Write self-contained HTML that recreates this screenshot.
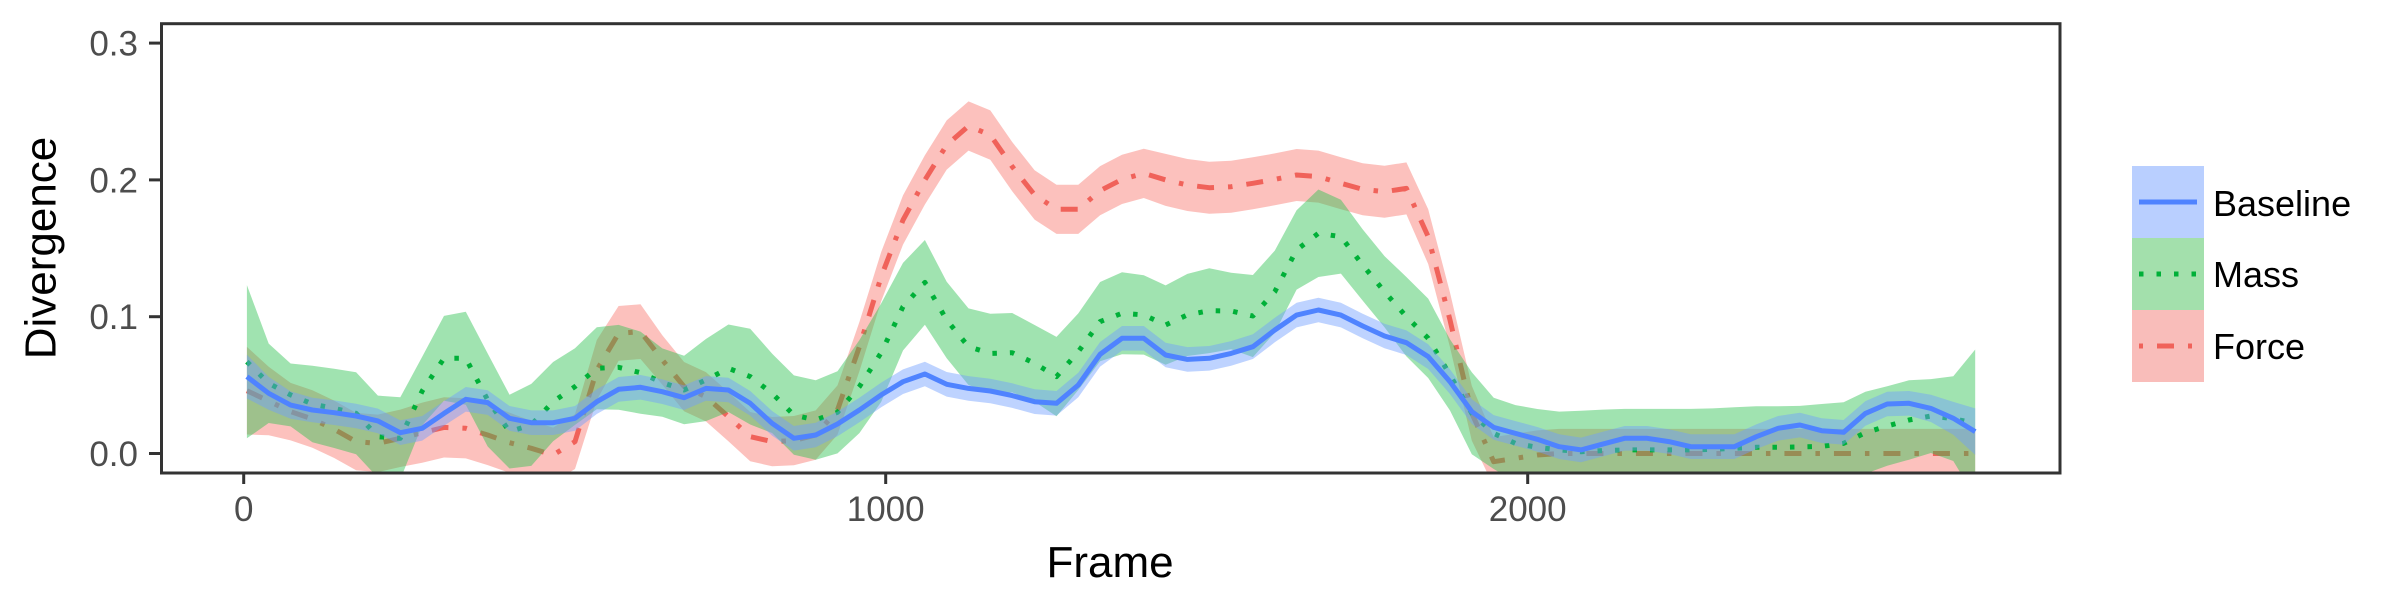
<!DOCTYPE html>
<html><head><meta charset="utf-8">
<style>
html,body{margin:0;padding:0;background:#fff;}
svg{display:block;font-family:"Liberation Sans",Arial,sans-serif;}
</style></head>
<body>
<svg id="chart" width="2400" height="600" viewBox="0 0 2400 600" xmlns="http://www.w3.org/2000/svg">
  <defs><clipPath id="plotclip"><rect x="161.5" y="23.7" width="1898.5" height="449.3"/></clipPath></defs>
  <rect x="0" y="0" width="2400" height="600" fill="#fff"/>
  <g id="marks" clip-path="url(#plotclip)"></g>
  <rect x="161.5" y="23.7" width="1898.5" height="449.3" fill="none" stroke="#333" stroke-width="3"/>
  <g id="axes"></g>
  <text x="1110" y="577" font-size="44" text-anchor="middle" fill="#000">Frame</text>
  <text transform="translate(55.5,248) rotate(-90)" font-size="44" text-anchor="middle" fill="#000">Divergence</text>
  <g>
    <g>
      <rect x="2132" y="166" width="72" height="72" fill="#b9cfff"/>
      <line x1="2139" y1="202" x2="2197" y2="202" stroke="#4f83ff" stroke-width="5"/>
      <text x="2213" y="216" font-size="36" fill="#000">Baseline</text>
    </g>
    <g>
      <rect x="2132" y="238" width="72" height="72" fill="#a3e0ac"/>
      <line x1="2139" y1="274" x2="2199" y2="274" stroke="#00B038" stroke-width="5" stroke-dasharray="4.5 13"/>
      <text x="2213" y="287" font-size="36" fill="#000">Mass</text>
    </g>
    <g>
      <rect x="2132" y="310" width="72" height="72" fill="#f9bdba"/>
      <line x1="2139" y1="346" x2="2199" y2="346" stroke="#F0625A" stroke-width="5" stroke-dasharray="4 14 17 14"/>
      <text x="2213" y="359" font-size="36" fill="#000">Force</text>
    </g>
  </g>
</svg>
<script>
const frames = [5,39,73,107,141,175,209,244,278,312,346,380,414,448,482,516,550,584,618,652,686,720,755,789,823,857,891,925,959,993,1027,1061,1095,1129,1163,1197,1232,1266,1300,1334,1368,1402,1436,1470,1504,1538,1572,1606,1640,1674,1709,1743,1777,1811,1845,1879,1913,1947,1981,2015,2049,2083,2117,2151,2186,2220,2254,2288,2322,2356,2390,2424,2458,2492,2526,2560,2594,2628,2663,2697];
const baselineMean = [.0562,.0440,.0354,.0318,.0298,.0274,.0238,.0152,.0184,.0293,.0396,.0372,.0257,.0225,.0225,.0257,.0379,.0469,.0484,.0452,.0408,
 .0476,.0464,.0367,.0221,.0111,.0135,.0216,.0318,.0428,.0525,.0581,.0506,.0476,.0457,.0423,.0379,.0367,.0501,.0725,.0842,.0842,
 .0720,.0688,.0696,.0732,.0781,.0903,.1012,.1049,.1012,.0932,.0859,.0810,.0708,.0525,.0306,.0191,.0147,.0104,.0050,.0026,
 .0069,.0111,.0111,.0087,.0050,.0050,.0050,.0123,.0184,.0208,.0167,.0155,.0293,.0362,.0367,.0330,.0257,.0160];
const baselineErr = [.016,.012,.010,.009,.009,.009,.009,.009,.009,.009,.009,.009,.009,.009,.009,.009,.009,.009,.009,.009,.009,
 .009,.009,.009,.009,.009,.009,.009,.009,.009,.009,.009,.009,.009,.009,.009,.009,.009,.009,.009,.009,.009,
 .009,.009,.009,.009,.009,.009,.009,.009,.009,.009,.009,.009,.009,.009,.009,.009,.009,.009,.009,.009,
 .009,.009,.009,.009,.009,.009,.009,.009,.009,.009,.009,.009,.009,.009,.009,.010,.012,.017];
const massMean = [.0671,.0513,.0428,.0362,.0330,.0294,.0123,.0111,.0457,.0696,.0696,.0391,.0160,.0209,.0379,.0489,.0623,.0630,.0591,.0518,.0464,
 .0537,.0623,.0562,.0440,.0281,.0245,.0301,.0489,.0737,.1073,.1251,.0976,.0781,.0732,.0737,.0659,.0562,.0744,.0964,.1025,.1013,
 .0939,.1013,.1044,.1042,.1005,.1183,.1488,.1610,.1585,.1378,.1183,.1000,.0842,.0574,.0294,.0147,.0074,.0045,.0026,.0013,
 .0021,.0026,.0026,.0026,.0026,.0030,.0038,.0045,.0045,.0048,.0052,.0074,.0152,.0201,.0245,.0274,.0255,.0220];
const massErr = [.056,.029,.023,.028,.029,.030,.030,.030,.025,.031,.034,.034,.027,.030,.029,.028,.030,.031,.030,.025,.025,
 .030,.032,.035,.029,.029,.029,.030,.034,.036,.032,.031,.028,.028,.029,.029,.028,.029,.028,.029,.030,.029,
 .029,.030,.031,.028,.030,.030,.029,.032,.027,.026,.026,.029,.029,.026,.030,.026,.028,.028,.028,.030,
 .030,.030,.030,.030,.030,.030,.030,.030,.030,.030,.031,.030,.030,.029,.029,.027,.031,.054];
const forceMean = [.0459,.0384,.0306,.0252,.0177,.0087,.0074,.0111,.0152,.0191,.0184,.0135,.0079,.0038,-.0011,.0087,.0610,.0878,.0891,.0684,.0489,
 .0415,.0269,.0123,.0087,.0094,.0135,.0318,.0781,.1293,.1707,.2000,.2255,.2394,.2328,.2097,.1890,.1785,.1785,.1921,.2004,.2048,
 .2000,.1963,.1943,.1950,.1975,.2004,.2036,.2024,.1975,.1931,.1914,.1938,.1585,.0976,.0294,-.0060,-.0035,-.0011,0,0,
 0,0,0,0,0,0,0,0,0,0,0,0,0,0,0,0,0,0];
const forceErr = [.032,.025,.021,.021,.021,.021,.021,.021,.022,.022,.022,.022,.022,.020,.020,.020,.022,.020,.020,.018,.018,
 .018,.018,.018,.018,.018,.018,.018,.018,.018,.018,.018,.018,.018,.018,.018,.018,.018,.018,.018,.018,.018,
 .019,.019,.019,.019,.019,.019,.019,.019,.019,.019,.019,.019,.020,.020,.020,.018,.018,.018,.018,.018,
 .018,.018,.018,.018,.018,.018,.018,.018,.018,.018,.018,.018,.018,.018,.018,.018,.018,.018];
const xTicks = [0, 1000, 2000];
const yTicks = [0.0, 0.1, 0.2, 0.3];
const yTickLabels = ["0.0", "0.1", "0.2", "0.3"];

const NS = "http://www.w3.org/2000/svg";
function xScale(f){ return 243.7 + f * 0.642; }
function yScale(v){ return 453.5 - v * 1368; }

const marks = document.getElementById('marks');
const axes = document.getElementById('axes');

function ribbon(mean, err, fill, name){
  let pts = [];
  for (let i = 0; i < frames.length; i++) pts.push(xScale(frames[i]).toFixed(1) + ',' + yScale(mean[i] + err[i]).toFixed(1));
  for (let i = frames.length - 1; i >= 0; i--) pts.push(xScale(frames[i]).toFixed(1) + ',' + yScale(mean[i] - err[i]).toFixed(1));
  const p = document.createElementNS(NS, 'polygon');
  p.setAttribute('points', pts.join(' '));
  p.setAttribute('fill', fill);
  p.setAttribute('fill-opacity', '0.45');
  
  
  marks.appendChild(p);
}
function line(mean, stroke, dash, name){
  let pts = [];
  for (let i = 0; i < frames.length; i++) pts.push(xScale(frames[i]).toFixed(1) + ',' + yScale(mean[i]).toFixed(1));
  const p = document.createElementNS(NS, 'polyline');
  p.setAttribute('points', pts.join(' '));
  p.setAttribute('fill', 'none');
  p.setAttribute('stroke', stroke);
  p.setAttribute('stroke-width', '5');
  p.setAttribute('stroke-linejoin', 'round');
  if (dash) p.setAttribute('stroke-dasharray', dash);
  
  
  marks.appendChild(p);
}
ribbon(forceMean, forceErr, '#F8766D', 'force-ribbon');
line(forceMean, '#F0625A', '17 14 4.5 14', 'force-line');
ribbon(massMean, massErr, '#2DC04F', 'mass-ribbon');
line(massMean, '#00B038', '4.5 13', 'mass-line');
ribbon(baselineMean, baselineErr, '#6E9EFF', 'baseline-ribbon');
line(baselineMean, '#4f83ff', null, 'baseline-line');

xTicks.forEach(function(t){
  const x = xScale(t);
  const tk = document.createElementNS(NS, 'line');
  tk.setAttribute('x1', x); tk.setAttribute('x2', x);
  tk.setAttribute('y1', 473); tk.setAttribute('y2', 484);
  tk.setAttribute('stroke', '#333'); tk.setAttribute('stroke-width', '3');
  
  
  axes.appendChild(tk);
  const lb = document.createElementNS(NS, 'text');
  lb.setAttribute('x', x); lb.setAttribute('y', 521);
  lb.setAttribute('font-size', '35'); lb.setAttribute('text-anchor', 'middle');
  lb.setAttribute('fill', '#4D4D4D');
  lb.textContent = String(t);
  
  
  axes.appendChild(lb);
});
yTicks.forEach(function(t, i){
  const y = yScale(t);
  const tk = document.createElementNS(NS, 'line');
  tk.setAttribute('x1', 149); tk.setAttribute('x2', 161.5);
  tk.setAttribute('y1', y); tk.setAttribute('y2', y);
  tk.setAttribute('stroke', '#333'); tk.setAttribute('stroke-width', '3');
  
  
  axes.appendChild(tk);
  const lb = document.createElementNS(NS, 'text');
  lb.setAttribute('x', 138); lb.setAttribute('y', y + 12.5);
  lb.setAttribute('font-size', '35'); lb.setAttribute('text-anchor', 'end');
  lb.setAttribute('fill', '#4D4D4D');
  lb.textContent = yTickLabels[i];
  
  
  axes.appendChild(lb);
});
</script>
</body></html>
